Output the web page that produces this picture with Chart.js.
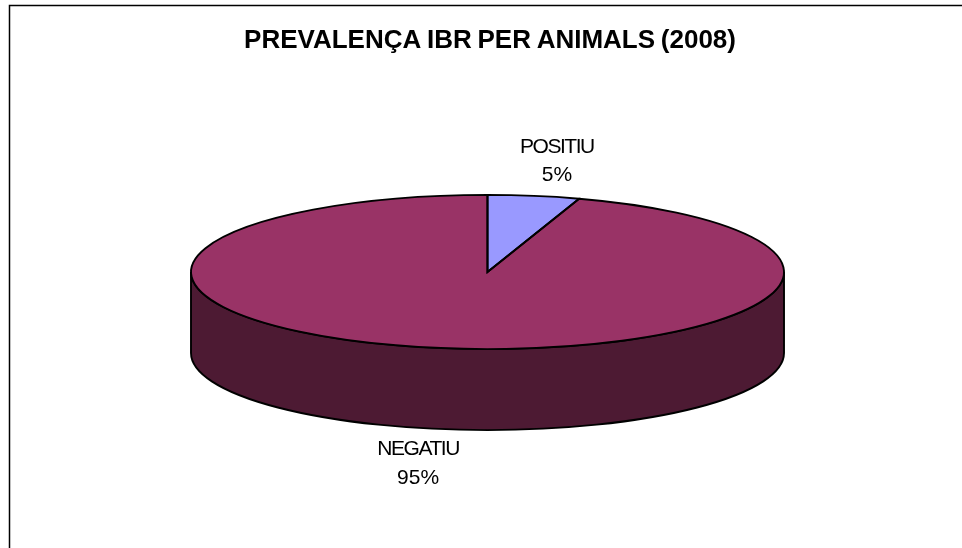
<!DOCTYPE html>
<html>
<head>
<meta charset="utf-8">
<title>Prevalença IBR per animals (2008)</title>
<script src="https://cdn.jsdelivr.net/npm/chart.js@4"></script>
<style>
  html, body { margin:0; padding:0; background:#fff; overflow:hidden; }
  canvas { display:block; }
</style>
</head>
<body>
<canvas id="chart" width="962" height="548"></canvas>
<script>
const chartTitle = 'PREVALENÇA IBR PER ANIMALS (2008)'
const categories = ['POSITIU', 'NEGATIU']
const shares = [5, 95]
const sliceColors = ['#9999ff', '#993366']
const sideColors = ['#4d4d80', '#4d1a33']

const squash = 0.26     // tilt of the pie
const depth = 81        // height of the side wall
const lineW = 1.9

const pie3d = {
    id: 'pie3d',
    afterLayout(chart) {
        // title sits a little right of the pie centre
        chart.titleBlock.left += 2.5
        chart.titleBlock.right += 2.5
    },
    beforeDraw(chart) {
        const ctx = chart.ctx
        ctx.fillStyle = '#fff'
        ctx.fillRect(0, 0, chart.width, chart.height)
        // page frame, cut by the right and bottom edges of the picture
        ctx.strokeStyle = '#000'
        ctx.lineWidth = 1.5
        ctx.strokeRect(9.5, 5.5, chart.width + 20, chart.height + 20)
        ctx.letterSpacing = '0px'
        ctx.wordSpacing = '-1.5px'
    },
    beforeDatasetsDraw(chart) {
        const ctx = chart.ctx
        const arcs = chart.getDatasetMeta(0).data
        ctx.letterSpacing = '0px'
        ctx.wordSpacing = '0px'
        // side wall: only the part of each slice facing the viewer
        arcs.forEach((a, i) => {
            const s = Math.max(a.startAngle, 0), e = Math.min(a.endAngle, Math.PI)
            if (e <= s) return
            const r = a.outerRadius, ry = r * squash
            ctx.beginPath()
            ctx.ellipse(a.x, a.y, r, ry, 0, s, e)
            ctx.ellipse(a.x, a.y + depth, r, ry, 0, e, s, true)
            ctx.closePath()
            ctx.fillStyle = sideColors[i]
            ctx.fill()
            ctx.lineWidth = lineW
            ctx.strokeStyle = '#000'
            ctx.stroke()
        })
        ctx.save()
        const c = arcs[0]
        ctx.translate(c.x, c.y)
        ctx.scale(1, squash)
        ctx.translate(-c.x, -c.y)
    },
    afterDatasetsDraw(chart) {
        const ctx = chart.ctx
        ctx.restore()
        const arcs = chart.getDatasetMeta(0).data
        // outlines done here so the line width is not squashed with the slices
        arcs.forEach(a => {
            const r = a.outerRadius
            ctx.beginPath()
            ctx.moveTo(a.x, a.y)
            ctx.ellipse(a.x, a.y, r, r * squash, 0, a.startAngle, a.endAngle)
            ctx.closePath()
            ctx.lineWidth = lineW
            ctx.strokeStyle = '#000'
            ctx.lineJoin = 'miter'
            ctx.stroke()
        })
        // labels, hung off the middle of each slice
        const total = shares.reduce((p, v) => p + v, 0)
        ctx.fillStyle = '#000'
        ctx.textAlign = 'center'
        ctx.textBaseline = 'alphabetic'
        ctx.font = '21px "Liberation Sans"'
        arcs.forEach((a, i) => {
            const mid = (a.startAngle + a.endAngle) / 2
            const px = Math.cos(mid), py = Math.sin(mid)
            const x = a.x + px * a.outerRadius + Math.sign(px) * 23
            const edge = a.y + py * a.outerRadius * squash
            const y = py < 0 ? edge - 43 : edge + depth + 26
            ctx.letterSpacing = '-1.45px'
            ctx.fillText(categories[i], x, y)
            ctx.letterSpacing = '0px'
            ctx.fillText(Math.round(shares[i] / total * 100) + '%', x, y + 28.5)
        })
    }
}

new Chart(document.getElementById('chart'), {
    type: 'pie',
    data: {
        labels: categories,
        datasets: [{
            data: shares,
            backgroundColor: sliceColors,
            borderWidth: 0,
            clip: false
        }]
    },
    options: {
        responsive: false,
        animation: false,
        radius: 296.5,
        layout: { padding: { left: 13, right: 0, top: 0, bottom: 102 } },
        plugins: {
            legend: { display: false },
            tooltip: { enabled: false },
            title: {
                display: true,
                text: chartTitle,
                color: '#000',
                font: { family: '"Liberation Sans"', size: 26, weight: 'bold', lineHeight: 1.2 },
                padding: { top: 25, bottom: 41.8 }
            }
        }
    },
    plugins: [pie3d]
})
</script>
</body>
</html>
